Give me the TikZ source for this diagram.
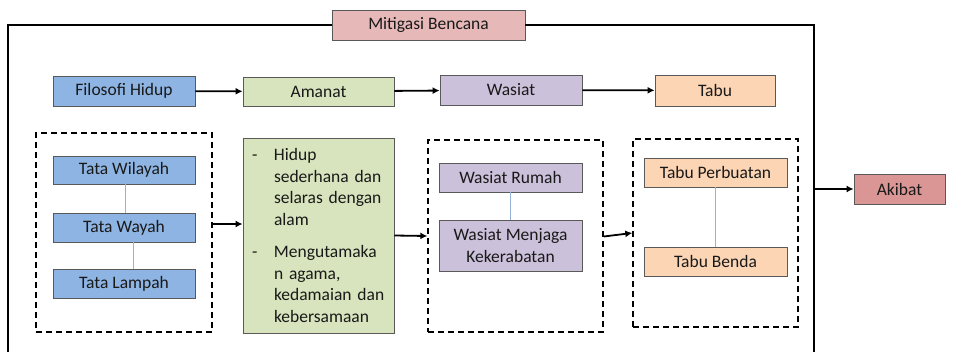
\documentclass[tikz,border=0pt]{standalone}
\usepackage{fontspec}
\setmainfont{Carlito}
\usetikzlibrary{calc}
\usetikzlibrary{arrows.meta}
\definecolor{birukotak}{RGB}{142,180,227}
\definecolor{hijaukotak}{RGB}{215,228,189}
\definecolor{ungukotak}{RGB}{204,193,218}
\definecolor{jinggakotak}{RGB}{252,213,181}
\definecolor{merahmuda}{RGB}{230,185,184}
\definecolor{merahkotak}{RGB}{217,150,148}
\definecolor{garisbiru}{RGB}{149,179,215}
\tikzset{
	kotak/.style={draw=black!65,line width=0.8pt,inner sep=0pt,text=black!90,font=\fontsize{17.5}{21.5}\selectfont,align=center},
	kotakputus/.style={draw=black,line width=1.4pt,dash pattern=on 6pt off 4pt,inner sep=0pt},
	panah/.style={line width=1.8pt,-{Latex[length=7pt,width=7pt]}},
	bingkai/.style={line width=1.6pt},
	sambung/.style={draw=garisbiru,line width=0.9pt}
}

\begin{document}
\begin{tikzpicture}[x=1pt,y=-1pt]
	\useasboundingbox (0,0) rectangle (964,351);
	% judul dan bingkai luar
	\node[kotak,fill=merahmuda,minimum width=193pt,minimum height=30pt] (judul) at (428.5,25) {Mitigasi Bencana};
	\coordinate (bingkaikiri) at (8,353);
	\coordinate (bingkaikanan) at (814,353);
	\draw[bingkai] (judul.west) -| (bingkaikiri);
	\draw[bingkai] (judul.east) -| (bingkaikanan);
	% baris atas
	\node[kotak,fill=birukotak,minimum width=142pt,minimum height=30pt] (filosofi) at (124,91) {Filosofi Hidup};
	\node[kotak,fill=hijaukotak,minimum width=151pt,minimum height=29pt] (amanat) at (318.5,91.5) {Amanat};
	\node[kotak,fill=ungukotak,minimum width=142pt,minimum height=30pt] (wasiat) at (511,90) {Wasiat};
	\node[kotak,fill=jinggakotak,minimum width=120pt,minimum height=31pt] (tabu) at (715,90.5) {Tabu};
	\draw[panah] (filosofi) -- (amanat);
	\draw[panah] (amanat) -- (wasiat);
	\draw[panah] (wasiat) -- (tabu);
	% kelompok tata
	\node[kotakputus,minimum width=176pt,minimum height=199pt] (kotak1) at (124,232.5) {};
	\node[kotak,fill=birukotak,minimum width=142pt,minimum height=28pt] (wilayah) at (124,170) {Tata Wilayah};
	\node[kotak,fill=birukotak,minimum width=142pt,minimum height=29pt] (wayah) at (124,227.5) {Tata Wayah};
	\node[kotak,fill=birukotak,minimum width=142pt,minimum height=29pt] (lampah) at (124,283.5) {Tata Lampah};
	\draw[sambung] ($ (wilayah.south) + (1,0) $) -- ($ (wayah.north) + (1,0) $);
	\draw[sambung] ($ (wayah.south) + (9,0) $) -- ($ (lampah.north) + (9,0) $);
	% isi amanat
	\node[kotak,fill=hijaukotak,text width=133pt,inner xsep=9pt,minimum height=195pt,align=left] (amanatisi) at (318.5,235.5) {%
		\makebox[22pt][l]{-}Hidup\\
		\hspace*{22pt}sederhana dan\\
		\hspace*{22pt}selaras dengan\\
		\hspace*{22pt}alam\\[11pt]
		\makebox[22pt][l]{-}Mengutamaka\\
		\hspace*{22pt}n agama,\\
		\hspace*{22pt}kedamaian dan\\
		\hspace*{22pt}kebersamaan};
	\draw[panah] ($ (kotak1.east) + (0,-8.5) $) -- ($ (amanatisi.west) + (0,-11.5) $);
	% kelompok wasiat
	\node[kotakputus,minimum width=175pt,minimum height=192pt] (kotak2) at (515.5,236) {};
	\node[kotak,fill=ungukotak,minimum width=143pt,minimum height=29pt] (rumah) at (510.5,177.5) {Wasiat Rumah};
	\node[kotak,fill=ungukotak,minimum width=143pt,minimum height=51pt] (kerabat) at (510.5,245.5) {Wasiat Menjaga\\Kekerabatan};
	\draw[sambung] (rumah) -- (kerabat);
	\draw[panah] (amanatisi.east) -- (kotak2.west);
	% kelompok tabu
	\node[kotakputus,minimum width=165pt,minimum height=188pt] (kotak3) at (715.5,233) {};
	\node[kotak,fill=jinggakotak,minimum width=143pt,minimum height=29pt] (perbuatan) at (715.5,172.5) {Tabu Perbuatan};
	\node[kotak,fill=jinggakotak,minimum width=143pt,minimum height=29pt] (benda) at (715.5,261.5) {Tabu Benda};
	\draw[sambung] (perbuatan) -- (benda);
	\draw[panah] ($ (kotak2.east) + (0,0.5) $) -- (kotak3.west);
	% akibat
	\node[kotak,fill=merahkotak,minimum width=91pt,minimum height=30pt] (akibat) at (899.5,189) {Akibat};
	\draw[panah] (akibat.west -| bingkaikanan) -- (akibat.west);
\end{tikzpicture}
\end{document}
